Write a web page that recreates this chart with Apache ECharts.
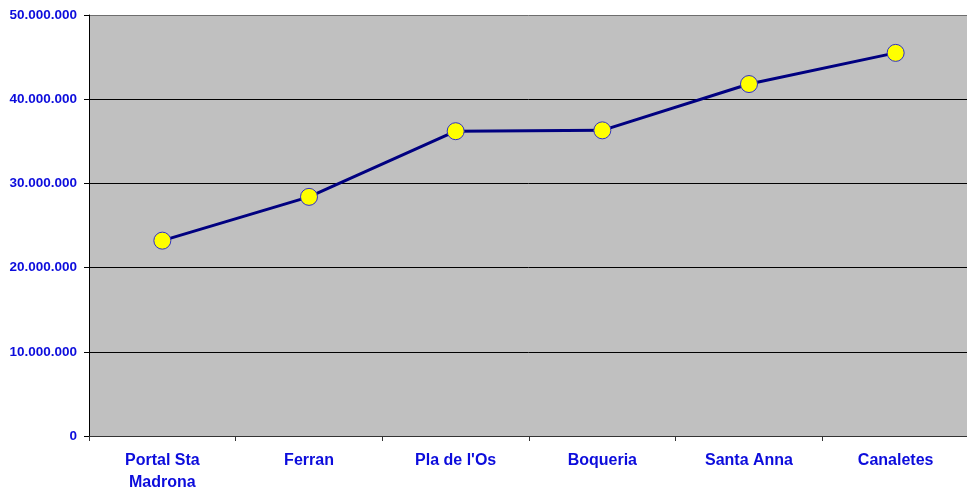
<!DOCTYPE html>
<html>
<head>
<meta charset="utf-8">
<script src="https://cdn.jsdelivr.net/npm/echarts@6/dist/echarts.min.js"></script>
<style>
  html, body { margin: 0; padding: 0; background: #fff; }
  #chart { width: 967px; height: 488px; }
</style>
</head>
<body>
<div id="chart"></div>
<script>
// categories (x axis)
const stops = ["Portal Sta\nMadrona", "Ferran", "Pla de l'Os", "Boqueria", "Santa Anna", "Canaletes"];
// values
const values = [23200000, 28400000, 36200000, 36300000, 41800000, 45500000];

const blue = "#0c0cdc";

// 50000000 -> "50.000.000"
const fmt = (v) => String(v).replace(/\B(?=(\d{3})+(?!\d))/g, ".");

const chart = echarts.init(document.getElementById("chart"));
chart.setOption({
  animation: false,
  grid: {
    left: 89,
    right: -2,
    top: 15,
    bottom: 52,
    outerBoundsMode: "none",
    containLabel: false,
    show: true,
    backgroundColor: "#c0c0c0",
    borderWidth: 0,
  },
  xAxis: {
    type: "category",
    data: stops,
    boundaryGap: true,
    axisLine: { lineStyle: { color: "#333", width: 1 } },
    axisTick: { show: true, length: 5, lineStyle: { color: "#333" } },
    axisLabel: {
      color: blue,
      fontFamily: "Liberation Sans, Arial, sans-serif",
      fontWeight: "bold",
      fontSize: 16,
      lineHeight: 22,
      margin: 14,
      interval: 0,
    },
  },
  yAxis: {
    type: "value",
    min: 0,
    max: 50000000,
    interval: 10000000,
    axisLine: { show: true, lineStyle: { color: "#000", width: 1 } },
    axisTick: { show: true, length: 5, lineStyle: { color: "#000" } },
    axisLabel: {
      color: blue,
      fontFamily: "Liberation Sans, Arial, sans-serif",
      fontWeight: "bold",
      fontSize: 13.5,
      margin: 12,
      formatter: fmt,
    },
    splitLine: {
      show: true,
      lineStyle: {
        color: ["#000", "#000", "#000", "#000", "#000", "#6e6e6e"],
        width: 1,
      },
    },
  },
  series: [
    {
      type: "line",
      data: values,
      lineStyle: { color: "#000080", width: 3 },
      symbol: "circle",
      symbolSize: 17,
      itemStyle: { color: "#ffff00", borderColor: "#3030c8", borderWidth: 1 },
      z: 3,
    },
  ],
});
</script>
</body>
</html>
